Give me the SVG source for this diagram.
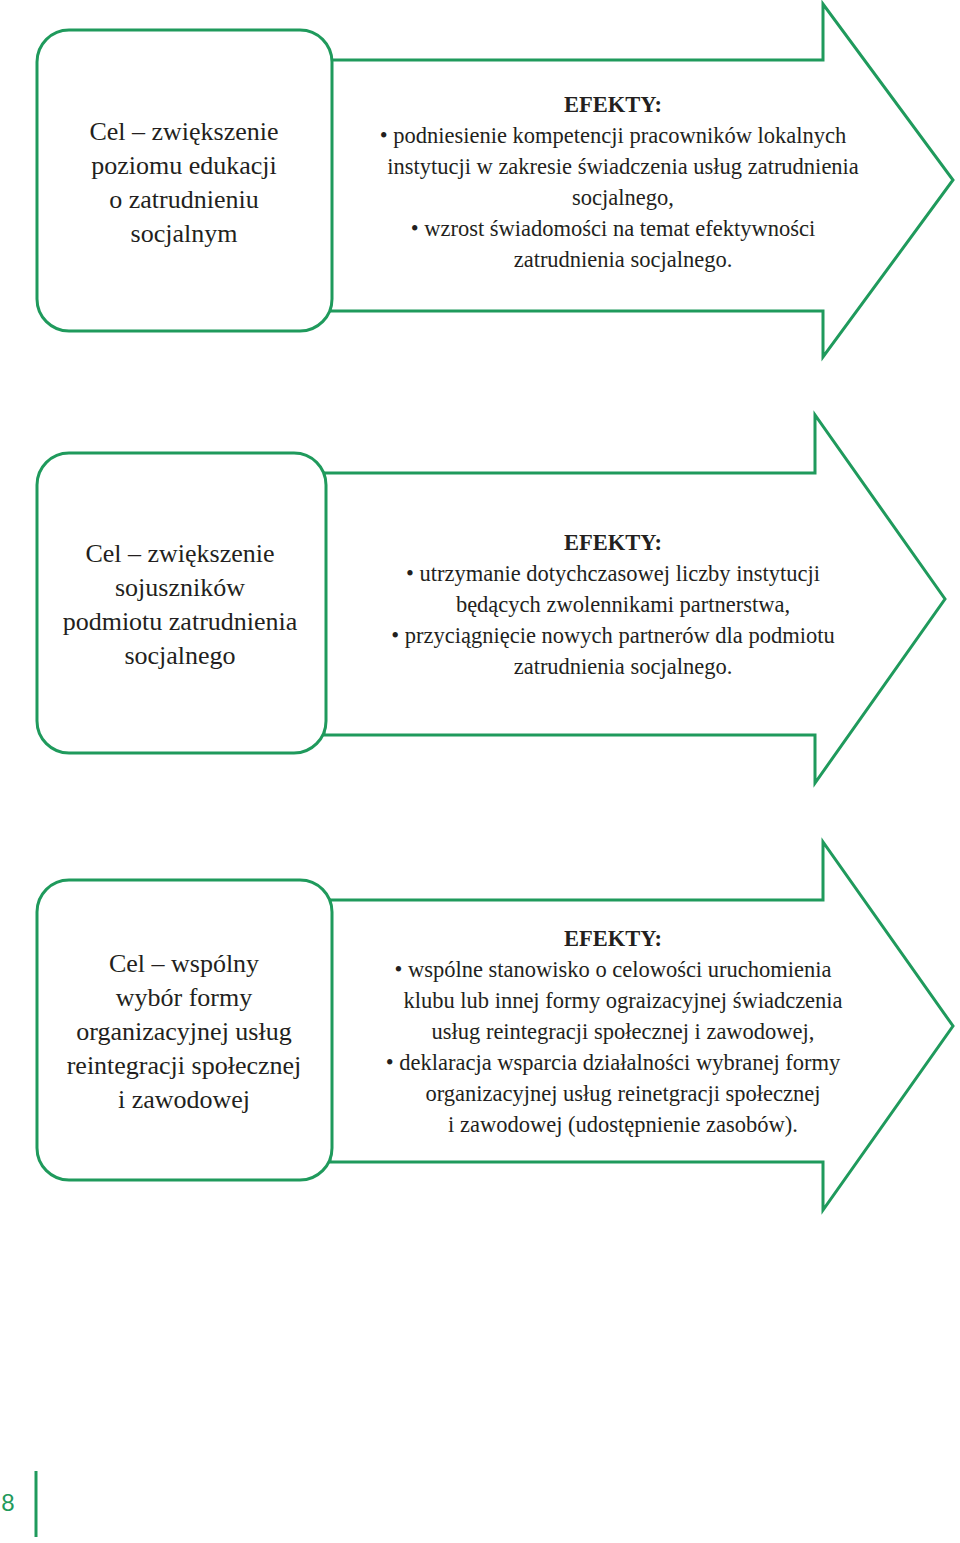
<svg xmlns="http://www.w3.org/2000/svg" width="960" height="1543" viewBox="0 0 960 1543">
<style>
.s{fill:#fff;stroke:#1f9a5c;stroke-width:3}
.l{font-family:"Liberation Serif",serif;font-size:26px;fill:#231f20;text-anchor:middle}
.r{font-family:"Liberation Serif",serif;font-size:22.5px;fill:#231f20;text-anchor:middle}
.b{font-weight:bold}
</style>
<rect width="960" height="1543" fill="#fff"/>
<g id="arrow1"><path class="s" d="M330 60H823V4L953 180L823 357V311H330Z"/></g>
<g id="goal1"><rect class="s" x="37" y="30" width="295" height="301" rx="32"/>
<text class="l"><tspan x="184" y="140">Cel – zwiększenie</tspan><tspan x="184" y="174">poziomu edukacji</tspan><tspan x="184" y="208">o zatrudnieniu</tspan><tspan x="184" y="242">socjalnym</tspan></text></g>
<g id="effects1"><text class="r"><tspan x="613" y="112" class="b">EFEKTY:</tspan><tspan x="613" y="143">•  podniesienie kompetencji pracowników lokalnych</tspan><tspan x="623" y="174">instytucji  w zakresie świadczenia usług zatrudnienia</tspan><tspan x="623" y="205">socjalnego,</tspan><tspan x="613" y="236">•  wzrost świadomości na temat efektywności</tspan><tspan x="623" y="267">zatrudnienia socjalnego.</tspan></text></g>

<g id="arrow2"><path class="s" d="M324 473H815V415L945 599L815 783V735H324Z"/></g>
<g id="goal2"><rect class="s" x="37" y="453" width="289" height="300" rx="32"/>
<text class="l"><tspan x="180" y="562">Cel – zwiększenie</tspan><tspan x="180" y="596">sojuszników</tspan><tspan x="180" y="630">podmiotu zatrudnienia</tspan><tspan x="180" y="664">socjalnego</tspan></text></g>
<g id="effects2"><text class="r"><tspan x="613" y="550" class="b">EFEKTY:</tspan><tspan x="613" y="581">•  utrzymanie dotychczasowej liczby instytucji</tspan><tspan x="623" y="612">będących zwolennikami partnerstwa,</tspan><tspan x="613" y="643">•  przyciągnięcie nowych partnerów dla podmiotu</tspan><tspan x="623" y="674">zatrudnienia socjalnego.</tspan></text></g>

<g id="arrow3"><path class="s" d="M330 900H823V842L953 1026L823 1210V1162H330Z"/></g>
<g id="goal3"><rect class="s" x="37" y="880" width="295" height="300" rx="32"/>
<text class="l"><tspan x="184" y="972">Cel – wspólny</tspan><tspan x="184" y="1006">wybór formy</tspan><tspan x="184" y="1040">organizacyjnej usług</tspan><tspan x="184" y="1074">reintegracji społecznej</tspan><tspan x="184" y="1108">i zawodowej</tspan></text></g>
<g id="effects3"><text class="r"><tspan x="613" y="946" class="b">EFEKTY:</tspan><tspan x="613" y="977">•  wspólne stanowisko o celowości uruchomienia</tspan><tspan x="623" y="1008">klubu lub innej formy ograizacyjnej świadczenia</tspan><tspan x="623" y="1039">usług reintegracji społecznej i zawodowej,</tspan><tspan x="613" y="1070">•  deklaracja wsparcia działalności wybranej formy</tspan><tspan x="623" y="1101">organizacyjnej usług reinetgracji społecznej</tspan><tspan x="623" y="1132">i zawodowej (udostępnienie zasobów).</tspan></text></g>

<g id="footer"><text x="8" y="1511" font-family="Liberation Sans,sans-serif" font-size="24" fill="#1f9a5c" text-anchor="middle">8</text>
<line x1="36" y1="1471" x2="36" y2="1537" stroke="#1f9a5c" stroke-width="3"/></g>
</svg>
